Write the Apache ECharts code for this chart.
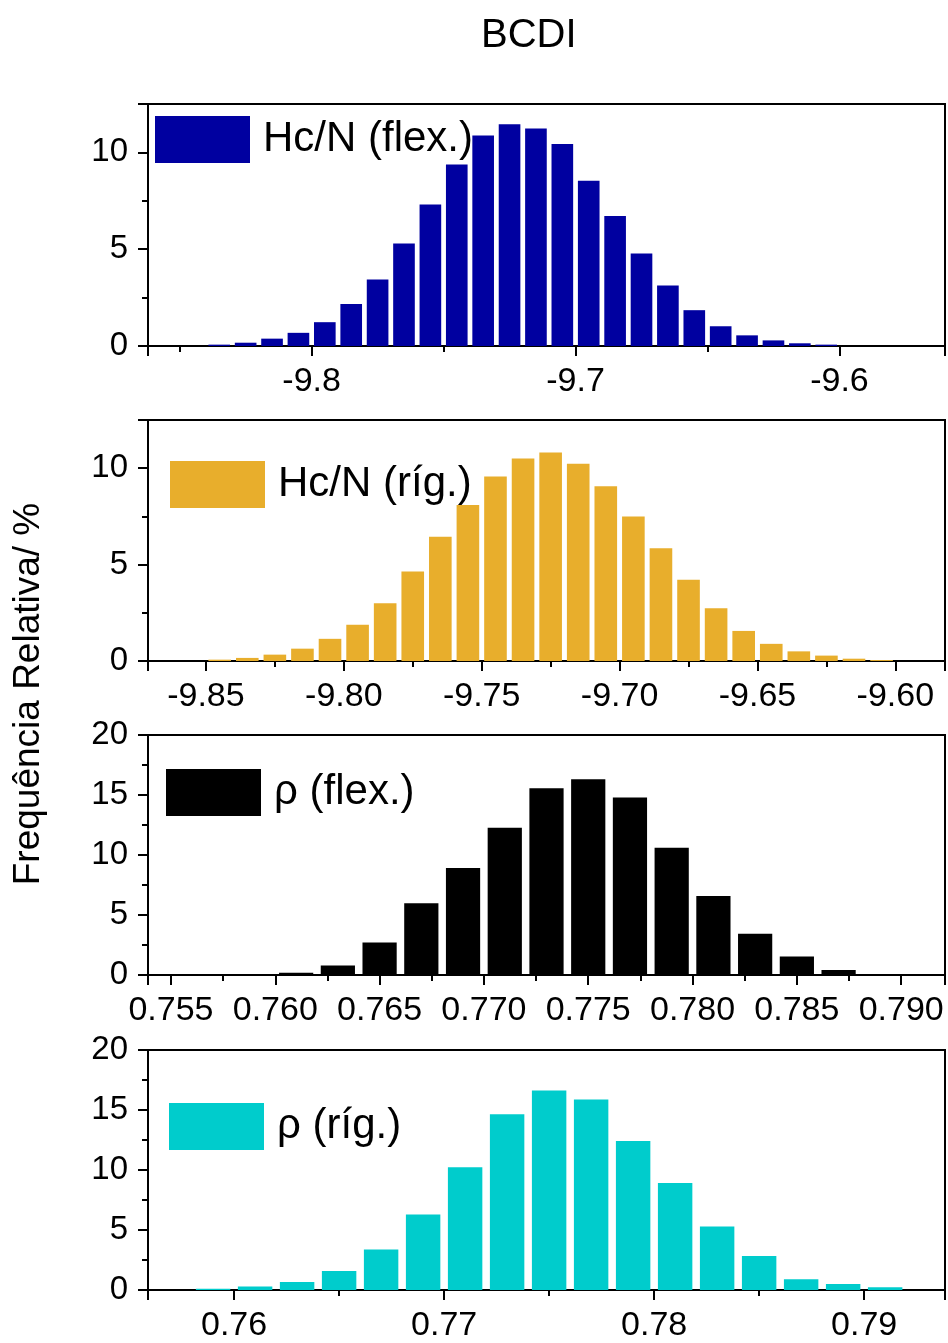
<!DOCTYPE html>
<html>
<head>
<meta charset="utf-8">
<script src="https://cdn.jsdelivr.net/npm/echarts@6/dist/echarts.min.js"></script>
<style>
html, body { margin: 0; padding: 0; background: #fff; }
#chart { width: 948px; height: 1343px; }
</style>
</head>
<body>
<div id="chart"></div>
<script>
// bin centres and relative frequencies (%)
let hcFlexBins = [-9.835, -9.825, -9.815, -9.805, -9.795, -9.785, -9.775, -9.765, -9.755, -9.745, -9.735, -9.725,
    -9.715, -9.705, -9.695, -9.685, -9.675, -9.665, -9.655, -9.645, -9.635, -9.625, -9.615, -9.605];
let hcFlexFreq = [0.07, 0.17, 0.38, 0.68, 1.23, 2.17, 3.43, 5.29, 7.31, 9.38, 10.87, 11.46,
    11.23, 10.43, 8.54, 6.72, 4.78, 3.12, 1.85, 1.02, 0.55, 0.29, 0.14, 0.07];

let hcRigBins = [-9.845, -9.835, -9.825, -9.815, -9.805, -9.795, -9.785, -9.775, -9.765, -9.755, -9.745, -9.735,
    -9.725, -9.715, -9.705, -9.695, -9.685, -9.675, -9.665, -9.655, -9.645, -9.635, -9.625, -9.615, -9.605];
let hcRigFreq = [0.07, 0.16, 0.33, 0.64, 1.15, 1.88, 3.0, 4.64, 6.44, 8.09, 9.57, 10.5,
    10.82, 10.23, 9.06, 7.5, 5.85, 4.22, 2.73, 1.56, 0.89, 0.5, 0.28, 0.12, 0.05];

let rhoFlexBins = [0.761, 0.763, 0.765, 0.767, 0.769, 0.771, 0.773, 0.775, 0.777, 0.779, 0.781, 0.783, 0.785, 0.787];
let rhoFlexFreq = [0.19, 0.8, 2.71, 5.98, 8.92, 12.27, 15.57, 16.32, 14.79, 10.61, 6.59, 3.43, 1.55, 0.42];

let rhoRigBins = [0.759, 0.761, 0.763, 0.765, 0.767, 0.769, 0.771, 0.773, 0.775, 0.777, 0.779, 0.781,
    0.783, 0.785, 0.787, 0.789, 0.791];
let rhoRigFreq = [0.1, 0.3, 0.66, 1.58, 3.38, 6.29, 10.22, 14.65, 16.62, 15.87, 12.41, 8.92,
    5.29, 2.83, 0.89, 0.5, 0.22];

let seriesNames = ['Hc/N (flex.)', 'Hc/N (ríg.)', 'ρ (flex.)', 'ρ (ríg.)'];
let seriesColors = ['#0000a0', '#e8ae2c', '#000000', '#00cccc'];

// x ranges / tick step / decimals per panel
let xRanges = [[-9.862, -9.56], [-9.871, -9.582], [0.7539, 0.7921], [0.7559, 0.79385]];
let xSteps = [0.1, 0.05, 0.005, 0.01];
let xDecimals = [1, 2, 3, 2];
let yMax = [12.5, 12.5, 20, 20];

const FONT = '"Liberation Sans", Arial, sans-serif';

function onStep(v, step) {
    let r = v / step;
    return Math.abs(r - Math.round(r)) < 1e-6;
}

function pairs(xs, ys) {
    return xs.map((x, i) => [x, ys[i]]);
}

function getOption() {
    let tops = [104, 420, 735, 1050];
    let heights = [242, 241, 240, 240];
    let legendPos = [[155, 116], [170, 461], [166, 769], [169, 1103]];
    let allData = [
        pairs(hcFlexBins, hcFlexFreq),
        pairs(hcRigBins, hcRigFreq),
        pairs(rhoFlexBins, rhoFlexFreq),
        pairs(rhoRigBins, rhoRigFreq)
    ];

    let axisLine = { show: true, onZero: false, lineStyle: { color: '#000', width: 2 } };
    let axisTick = { length: 10, lineStyle: { color: '#000', width: 2 } };
    let minorTick = { show: true, splitNumber: 2, length: 6, lineStyle: { color: '#000', width: 2 } };

    return {
        animation: false,
        textStyle: { fontFamily: FONT },
        title: {
            text: 'BCDI',
            left: 476,
            top: 11,
            textStyle: { fontSize: 40, fontWeight: 'normal', color: '#000', fontFamily: FONT }
        },
        graphic: [{
            type: 'text',
            x: 29,
            y: 694,
            rotation: Math.PI / 2,
            style: {
                text: 'Frequência Relativa/ %',
                font: '37px ' + FONT,
                fill: '#000',
                align: 'center',
                verticalAlign: 'middle'
            }
        }],
        legend: seriesNames.map((name, i) => ({
            data: [name],
            left: legendPos[i][0],
            top: legendPos[i][1],
            padding: 0,
            itemWidth: 95,
            itemHeight: 47,
            icon: 'rect',
            selectedMode: false,
            textStyle: { fontSize: 42, color: '#000', fontFamily: FONT, padding: [0, 0, 0, 8] }
        })),
        grid: tops.map((t, i) => ({
            left: 148,
            top: t,
            width: 797,
            height: heights[i],
            show: true,
            borderColor: '#000',
            borderWidth: 2
        })),
        xAxis: xRanges.map((r, i) => ({
            type: 'value',
            gridIndex: i,
            min: r[0],
            max: r[1],
            minInterval: xSteps[i],
            maxInterval: xSteps[i],
            splitNumber: 5,
            axisLine: axisLine,
            axisTick: axisTick,
            minorTick: minorTick,
            splitLine: { show: false },
            axisLabel: {
                fontSize: 34,
                color: '#000',
                fontFamily: FONT,
                margin: 19,
                formatter: v => onStep(v, xSteps[i]) ? v.toFixed(xDecimals[i]) : ''
            }
        })),
        yAxis: yMax.map((m, i) => ({
            type: 'value',
            gridIndex: i,
            min: 0,
            max: m,
            interval: 5,
            axisLine: axisLine,
            axisTick: axisTick,
            minorTick: minorTick,
            splitLine: { show: false },
            axisLabel: {
                fontSize: 33,
                color: '#000',
                fontFamily: FONT,
                margin: 20,
                formatter: v => onStep(v, 5) ? String(v) : ''
            }
        })),
        series: allData.map((d, i) => ({
            name: seriesNames[i],
            type: 'bar',
            xAxisIndex: i,
            yAxisIndex: i,
            barWidth: '82%',
            itemStyle: { color: seriesColors[i] },
            data: d
        }))
    };
}

let chart = echarts.init(document.getElementById('chart'));
chart.setOption(getOption());
</script>
</body>
</html>
